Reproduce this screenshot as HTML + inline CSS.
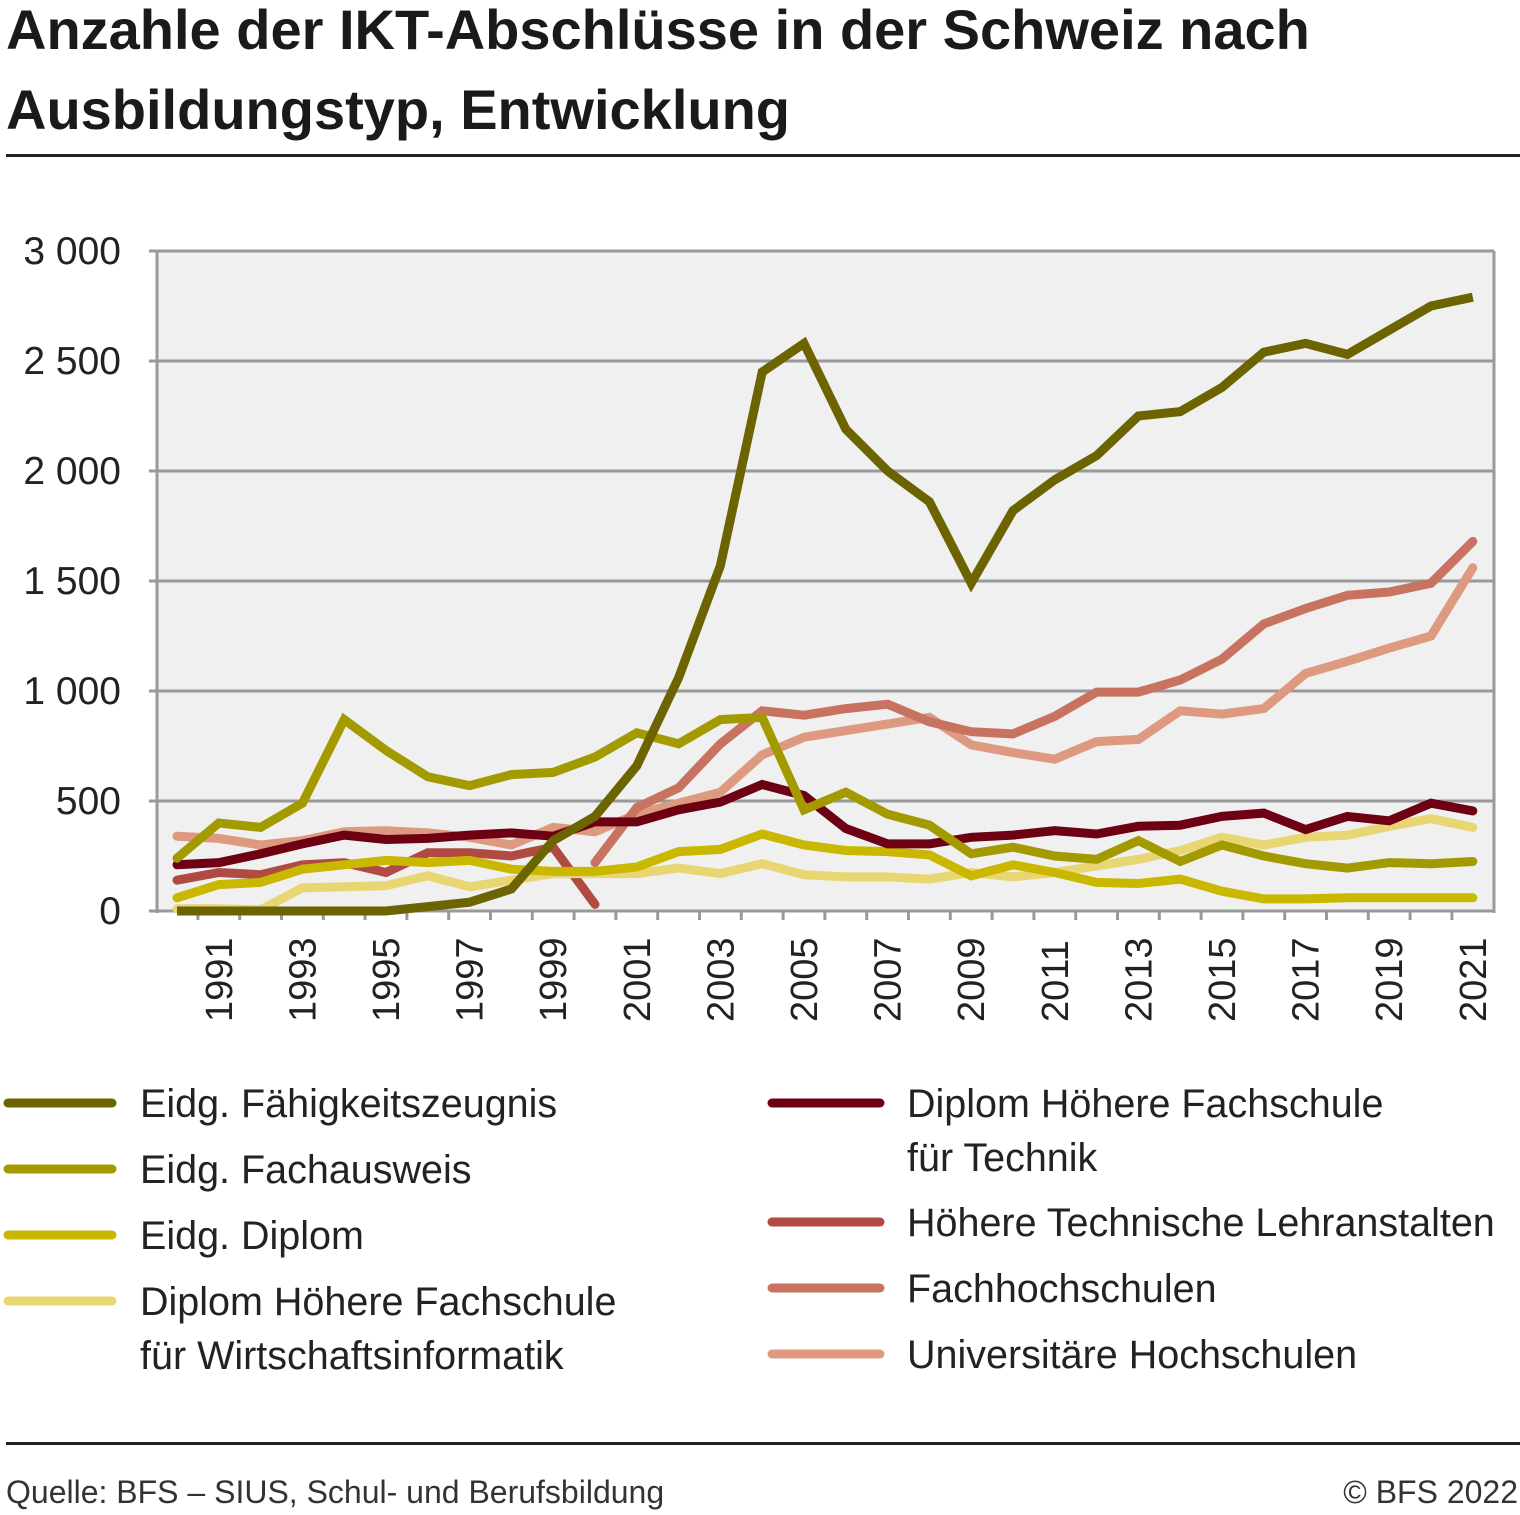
<!DOCTYPE html>
<html><head><meta charset="utf-8">
<style>
html,body{margin:0;padding:0;background:#fff;}
body{width:1520px;height:1515px;position:relative;overflow:hidden;font-family:"Liberation Sans",sans-serif;color:#1a1a1a;}
.title{position:absolute;left:6px;top:-10px;font-size:56px;font-weight:bold;line-height:80px;letter-spacing:0px;}
.rule{position:absolute;left:6px;width:1514px;height:3px;background:#222;}
.foot{position:absolute;top:1474px;font-size:32px;color:#333;}
</style></head>
<body>
<div class="title">Anzahle der IKT-Abschlüsse in der Schweiz nach<br>Ausbildungstyp, Entwicklung</div>
<div class="rule" style="top:154px"></div>
<svg id="chart" width="1520" height="1440" style="position:absolute;left:0;top:0"></svg>
<div class="rule" style="top:1442px"></div>
<div class="foot" style="left:6px">Quelle: BFS – SIUS, Schul- und Berufsbildung</div>
<div class="foot" style="right:2px">© BFS 2022</div>
<script>
const years=[1990,1991,1992,1993,1994,1995,1996,1997,1998,1999,2000,2001,2002,2003,2004,2005,2006,2007,2008,2009,2010,2011,2012,2013,2014,2015,2016,2017,2018,2019,2020,2021];
const yTicks=[0,500,1000,1500,2000,2500,3000];
const yTickLabels=["0","500","1 000","1 500","2 000","2 500","3 000"];
const efz=[0,0,0,0,0,0,20,40,100,320,430,660,1060,1570,2450,2580,2190,2000,1860,1490,1820,1960,2070,2250,2270,2380,2540,2580,2530,2640,2750,2790];
const fachausweis=[240,400,380,490,870,730,610,570,620,630,700,810,760,870,880,460,540,440,390,260,290,250,235,320,225,300,250,215,195,220,215,225];
const diplom=[60,120,130,190,210,230,220,230,190,180,180,200,270,280,350,300,275,270,255,160,210,175,130,125,145,90,55,55,60,60,60,60];
const hfWi=[10,10,5,105,110,115,160,110,140,170,170,170,195,170,215,165,155,155,145,175,155,175,205,235,275,335,300,335,345,385,420,380];
const hfTech=[210,220,260,305,345,325,330,345,355,340,405,405,460,495,575,525,375,305,305,335,345,365,350,385,390,430,445,370,430,410,490,455];
const htl=[140,175,165,210,220,175,265,265,250,290,30,null,null,null,null,null,null,null,null,null,null,null,null,null,null,null,null,null,null,null,null,null];
const fh=[null,null,null,null,null,null,null,null,null,null,220,470,560,760,910,890,920,940,860,815,805,885,995,995,1050,1145,1305,1375,1435,1450,1490,1680];
const uni=[340,330,300,320,360,365,355,335,300,380,360,440,490,540,710,790,820,850,880,755,720,690,770,780,910,895,920,1080,1135,1195,1250,1560];

const NS="http://www.w3.org/2000/svg";
const svg=document.getElementById('chart');
const L=157,R=1494,T=251,B=911,X0=177,DX=41.8;
const xs=i=>X0+i*DX;
const ys=v=>B-(v/3000)*(B-T);
function mk(tag,attrs,parent){const e=document.createElementNS(NS,tag);for(const k in attrs)e.setAttribute(k,attrs[k]);(parent||svg).appendChild(e);return e;}

const bg=mk('rect',{x:L,y:T,width:R-L,height:B-T,fill:'#f0f0f0'});


yTicks.forEach((v,i)=>{
  const g=mk('line',{x1:L-8,x2:R,y1:ys(v),y2:ys(v),stroke:'#999','stroke-width':3});
  
  
  const t=mk('text',{x:121,y:ys(v)+13,'text-anchor':'end','font-size':39,fill:'#222','font-family':'Liberation Sans, sans-serif'});
  t.textContent=yTickLabels[i];
  
  
});
const ax1=mk('line',{x1:L,x2:L,y1:T,y2:B+2,stroke:'#999','stroke-width':3});


const ax2=mk('line',{x1:R,x2:R,y1:T,y2:B+2,stroke:'#999','stroke-width':3});


for(let i=1;i<years.length;i++){
  const tk=mk('line',{x1:xs(i)-DX/2,x2:xs(i)-DX/2,y1:B,y2:B+9,stroke:'#999','stroke-width':3});
  
  
}
years.forEach((y,i)=>{
  if(y%2===1){
    const t=mk('text',{transform:`translate(${xs(i)+13},1022) rotate(-90)`,'font-size':38,fill:'#222','font-family':'Liberation Sans, sans-serif'});
    t.textContent=y;
    
    
  }
});
const series=[
 ['series-uni-hochschulen',uni,'#dd9a80'],
 ['series-fachhochschulen',fh,'#c77360'],
 ['series-htl',htl,'#b04a42'],
 ['series-hf-wirtschaftsinformatik',hfWi,'#e8d672'],
 ['series-eidg-diplom',diplom,'#c9b700'],
 ['series-hf-technik',hfTech,'#6e0014'],
 ['series-fachausweis',fachausweis,'#a39a00'],
 ['series-faehigkeitszeugnis',efz,'#6b6400']
];
series.forEach(([name,data,col])=>{
  let d='';let pen=false;
  data.forEach((v,i)=>{if(v===null){pen=false;return;}d+=(pen?'L':'M')+xs(i).toFixed(1)+' '+ys(v).toFixed(1)+' ';pen=true;});
  const p=mk('path',{d:d,fill:'none',stroke:col,'stroke-width':9,'stroke-linejoin':'miter','stroke-linecap':name==='series-faehigkeitszeugnis'?'butt':'round'});
  
  
});
const legend=[
 [8,112,140,1103,['Eidg. Fähigkeitszeugnis'],'#6b6400'],
 [8,112,140,1169,['Eidg. Fachausweis'],'#a39a00'],
 [8,112,140,1235,['Eidg. Diplom'],'#c9b700'],
 [8,112,140,1301,['Diplom Höhere Fachschule','für Wirtschaftsinformatik'],'#e8d672'],
 [772,880,907,1103,['Diplom Höhere Fachschule','für Technik'],'#6e0014'],
 [772,880,907,1222,['Höhere Technische Lehranstalten'],'#b04a42'],
 [772,880,907,1288,['Fachhochschulen'],'#c77360'],
 [772,880,907,1354,['Universitäre Hochschulen'],'#dd9a80']
];
legend.forEach(([x1,x2,tx,y,lines,col])=>{
  const g=mk('g',{});
  
  
  mk('line',{x1:x1,x2:x2,y1:y,y2:y,stroke:col,'stroke-width':9,'stroke-linecap':'round'},g);
  lines.forEach((s,k)=>{
    const t=mk('text',{x:tx,y:y+14+k*54,'font-size':39.5,fill:'#222','font-family':'Liberation Sans, sans-serif'},g);
    t.textContent=s;
  });
});
</script>
</body></html>
